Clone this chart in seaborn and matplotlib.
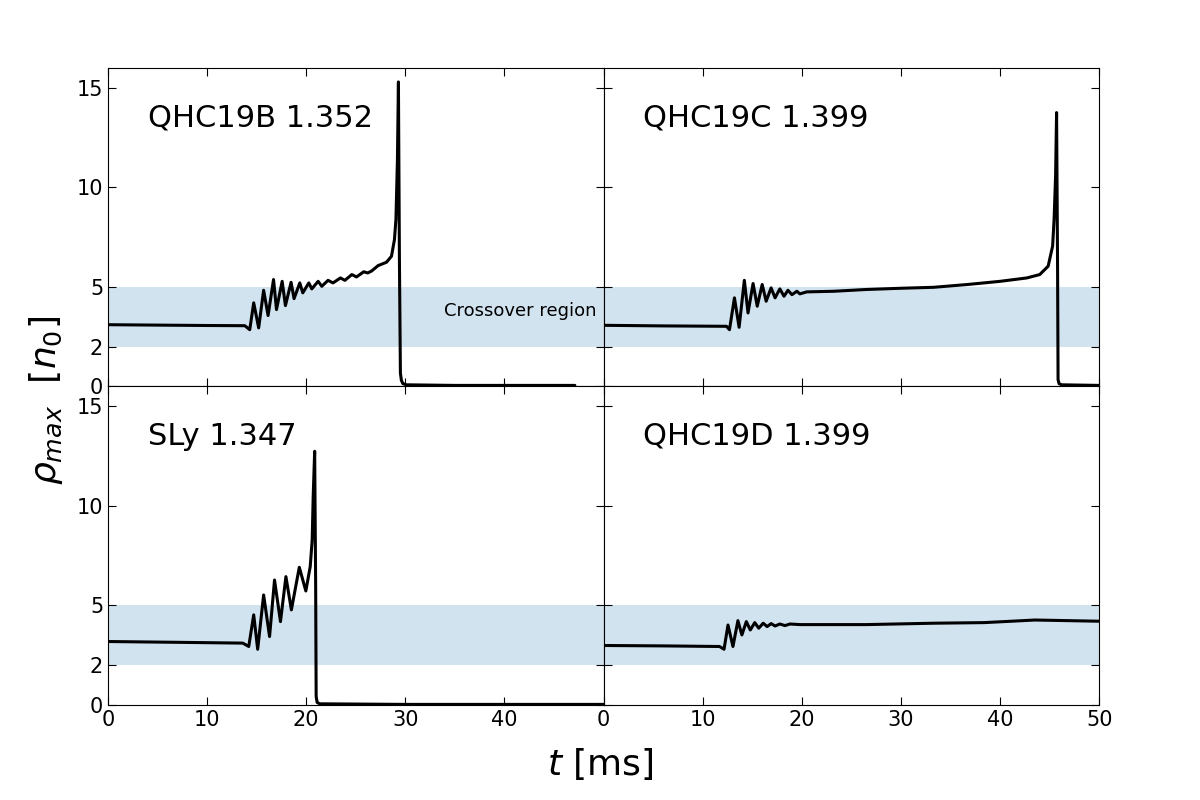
import matplotlib
matplotlib.use("Agg")
import matplotlib.pyplot as plt
import seaborn as sns

# Dados (t em ms, rho_max em n0)
t_qhc19b = [0, 5, 10, 13.8, 14.3, 14.7, 15.2, 15.7, 16.15, 16.7, 17.0, 17.57, 17.9, 18.47, 18.77,
            19.35, 19.65, 20.26, 20.56, 21.2, 21.57, 22.2, 22.7, 23.45, 23.9, 24.6, 25.07, 25.8,
            26.2, 26.6, 27.25, 28.1, 28.6, 28.9, 29.05, 29.2, 29.3, 29.4, 29.5, 29.6, 29.75, 30.1, 35, 40, 47.1]
rho_qhc19b = [3.1, 3.08, 3.06, 3.05, 2.85, 4.2, 2.94, 4.83, 3.56, 5.37, 3.86, 5.28, 4.06, 5.23, 4.41,
              5.2, 4.7, 5.2, 4.9, 5.28, 5.03, 5.33, 5.2, 5.45, 5.33, 5.62, 5.5, 5.76,
              5.7, 5.8, 6.07, 6.24, 6.54, 7.38, 8.4, 11.4, 15.3, 6.4, 0.67, 0.3, 0.14, 0.08, 0.05, 0.05, 0.05]

t_qhc19c = [0, 6, 12.4, 12.7, 13.2, 13.67, 14.2, 14.57, 15.08, 15.5, 16.0, 16.4, 16.9, 17.3, 17.78,
            18.2, 18.6, 19.0, 19.5, 19.8, 20.5, 23.2, 26.5, 29.9, 33.3, 36.7, 40.0, 42.7, 44.0,
            44.85, 45.3, 45.45, 45.6, 45.7, 45.8, 45.85, 45.95, 46.2, 50]
rho_qhc19c = [3.07, 3.04, 3.02, 2.85, 4.45, 2.97, 5.33, 3.69, 5.17, 4.03, 5.12, 4.28, 4.95, 4.45, 4.9,
              4.53, 4.83, 4.61, 4.78, 4.65, 4.75, 4.78, 4.87, 4.93, 4.98, 5.12, 5.28, 5.45, 5.62,
              6.04, 7.05, 8.4, 10.57, 13.76, 6.0, 0.34, 0.14, 0.08, 0.05]

t_sly = [0, 7, 13.6, 14.2, 14.7, 15.1, 15.7, 16.3, 16.8, 17.4, 17.95, 18.5, 19.3, 19.96, 20.4,
         20.6, 20.7, 20.85, 20.95, 21.0, 21.1, 21.35, 30, 40, 50]
rho_sly = [3.18, 3.14, 3.1, 2.93, 4.52, 2.79, 5.52, 3.43, 6.27, 4.18, 6.44, 4.77, 6.91, 5.72, 6.94,
           8.28, 10.45, 12.74, 6.0, 0.42, 0.12, 0.05, 0.02, 0.02, 0.02]

t_qhc19d = [0, 6, 11.7, 12.15, 12.55, 13.05, 13.55, 13.95, 14.4, 14.8, 15.25, 15.65, 16.1, 16.5,
            16.9, 17.3, 17.78, 18.3, 18.8, 19.8, 26.5, 33.3, 38.4, 43.5, 50]
rho_qhc19d = [2.98, 2.96, 2.93, 2.79, 4.01, 2.93, 4.23, 3.51, 4.18, 3.76, 4.13, 3.85, 4.1, 3.93,
              4.08, 3.96, 4.06, 3.98, 4.06, 4.03, 4.03, 4.1, 4.13, 4.26, 4.2]

labels = ["QHC19B 1.352", "QHC19C 1.399", "SLy 1.347", "QHC19D 1.399"]
series = [(t_qhc19b, rho_qhc19b), (t_qhc19c, rho_qhc19c), (t_sly, rho_sly), (t_qhc19d, rho_qhc19d)]

yticks = [0, 2, 5, 10, 15]
band = (2, 5)

fig, axes = plt.subplots(2, 2, figsize=(12, 8), dpi=100)
fig.subplots_adjust(left=0.09, right=0.916, top=0.915, bottom=0.119, hspace=0, wspace=0)

for i, ax in enumerate(axes.flat):
    t, rho = series[i]
    ax.axhspan(band[0], band[1], color='C0', alpha=0.2, lw=0)
    sns.lineplot(x=t, y=rho, ax=ax, color='k', lw=2.2, sort=False, estimator=None,
                 solid_joinstyle='round', solid_capstyle='round')
    ax.text(4, 13.5, labels[i], fontsize=22, va='center')
    ax.set_xlim(0, 50)
    ax.set_ylim(0, 16)
    ax.set_yticks(yticks)
    if i % 2 == 0:
        ax.set_xticks([0, 10, 20, 30, 40])
    else:
        ax.set_xticks([0, 10, 20, 30, 40, 50])
    ax.tick_params(direction='in', top=True, right=True, length=6, labelsize=15)
    if i < 2:
        ax.tick_params(labelbottom=False)
    if i % 2 == 1:
        ax.tick_params(labelleft=False)

axes[0, 0].text(41.6, 3.8, "Crossover region", fontsize=13, ha='center', va='center')

fig.text(0.5, 0.045, r'$t$ [ms]', ha='center', va='center', fontsize=26)
fig.text(0.038, 0.5, r'$\rho_{max}$  $[n_0]$', rotation=90, ha='center', va='center', fontsize=26)

plt.savefig("out.png", dpi=100)
